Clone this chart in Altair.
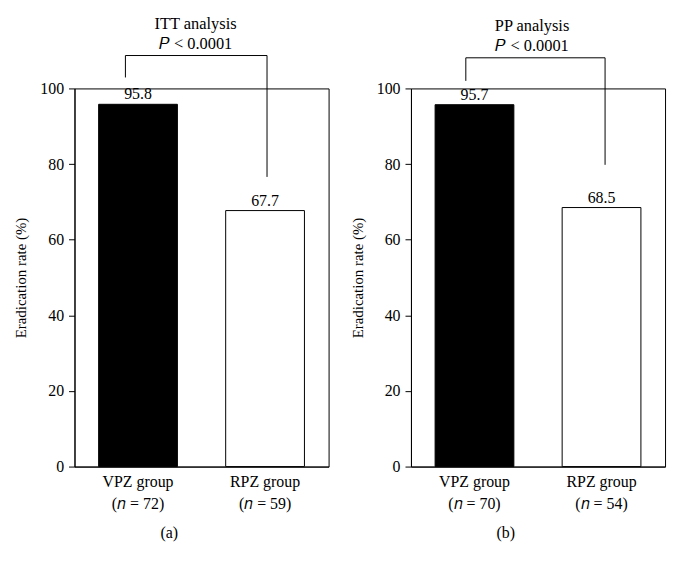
import altair as alt
import pandas as pd

groups = ["VPZ group", "RPZ group"]
itt_n = [72, 59]
itt_rate = [95.8, 67.7]
pp_n = [70, 54]
pp_rate = [95.7, 68.5]
panel_titles = ["ITT analysis", "PP analysis"]
p_text = "𝑃 < 0.0001"
captions = ["(a)", "(b)"]
bar_colors = ["black", "white"]
# bracket heights (in % units): left leg bottom, top line, right leg bottom
itt_bracket = [102.9, 108.7, 76.6]
pp_bracket = [102.0, 108.1, 79.8]
y_ticks = [0, 20, 40, 60, 80, 100]

FONT = "Liberation Serif"


def panel(rates, ns, title, caption, bracket, bp_left, bp_right):
    labels = [f"{g}|(𝑛 = {n})" for g, n in zip(groups, ns)]
    df = pd.DataFrame({
        "label": labels,
        "rate": rates,
        "text": [f"{r:.1f}" for r in rates],
        "color": bar_colors,
    })
    bdf = pd.DataFrame({
        "xl": [labels[0]], "xr": [labels[1]],
        "yl": [bracket[0]], "yt": [bracket[1]], "yr": [bracket[2]],
    })
    xscale = alt.Scale(domain=labels, paddingInner=0.38, paddingOuter=0.19)
    x = alt.X("label:N", scale=xscale,
              axis=alt.Axis(labelExpr="split(datum.label, '|')", ticks=False,
                            labelAngle=0, labelPadding=7, labelLineHeight=22,
                            title=caption, titleX=95, titleY=66,
                            titleFontSize=16,
                            titleBaseline="middle", titleAlign="center"))
    y = alt.Y("rate:Q", scale=alt.Scale(domain=[0, 100], nice=False),
              axis=alt.Axis(values=y_ticks, tickSize=6, labelPadding=5,
                            grid=False, title="Eradication rate (%)",
                            titleFontSize=15, titlePadding=11))
    base = alt.Chart(df)
    bars = base.mark_bar(stroke="black", strokeWidth=1).encode(
        x=x, y=y, color=alt.Color("color:N", scale=None))
    txt = base.mark_text(baseline="bottom", dy=-2, font=FONT, fontSize=16,
                         color="black").encode(
        x=alt.X("label:N"), y="rate:Q", text="text:N")
    bc = alt.Chart(bdf)
    leg_l = bc.mark_rule(color="black", strokeWidth=1).encode(
        x=alt.X("xl:N", bandPosition=bp_left),
        y=alt.Y("yl:Q"), y2="yt:Q")
    leg_r = bc.mark_rule(color="black", strokeWidth=1).encode(
        x=alt.X("xr:N", bandPosition=bp_right),
        y=alt.Y("yr:Q"), y2="yt:Q")
    top = bc.mark_rule(color="black", strokeWidth=1).encode(
        x=alt.X("xl:N", bandPosition=bp_left),
        x2=alt.X2("xr:N", bandPosition=bp_right),
        y=alt.Y("yt:Q"))
    return alt.layer(bars, txt, leg_l, leg_r, top).properties(
        width=256, height=381,
        title=alt.TitleParams(text=title, subtitle=p_text, font=FONT,
                              fontSize=16.5, fontWeight="normal", color="black",
                              subtitleFont=FONT, subtitleFontSize=16.5,
                              subtitleColor="black", subtitlePadding=3,
                              anchor="middle", dx=-6, offset=3))


left = panel(itt_rate, itt_n, panel_titles[0], captions[0], itt_bracket, 0.34, 0.525)
right = panel(pp_rate, pp_n, panel_titles[1], captions[1], pp_bracket, 0.39, 0.545)

chart = alt.hconcat(left, right, spacing=20).configure(
    background="white"
).configure_view(
    stroke="black", strokeWidth=1
).configure_axis(
    domainColor="black", tickColor="black", labelColor="black",
    titleColor="black", labelFont=FONT, titleFont=FONT, labelFontSize=16,
    titleFontSize=16, titleFontWeight="normal", domainWidth=1, tickWidth=1
)

chart.save("out.html", embed_options={"renderer": "svg", "actions": False})
